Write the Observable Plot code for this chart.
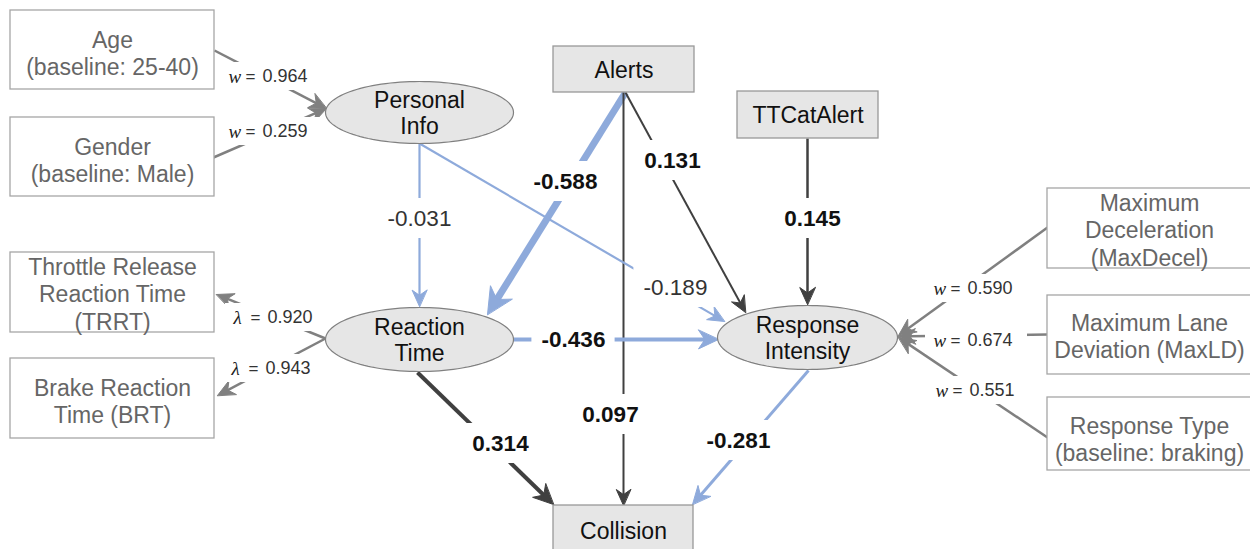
<!DOCTYPE html>
<html><head><meta charset="utf-8">
<script src="https://cdn.jsdelivr.net/npm/d3@7"></script>
<script src="https://cdn.jsdelivr.net/npm/@observablehq/plot@0.6"></script>
<style>html,body{margin:0;padding:0;background:#fff;overflow:hidden}</style>
</head><body><div id="chart"></div>
<script>
// ---------------- data ----------------
const indicatorLabels = ["Age\n(baseline: 25-40)", "Gender\n(baseline: Male)", "Throttle Release\nReaction Time\n(TRRT)", "Brake Reaction\nTime (BRT)", "Maximum\nDeceleration\n(MaxDecel)", "Maximum Lane\nDeviation (MaxLD)", "Response Type\n(baseline: braking)"];
const latentLabels = ["Personal\nInfo", "Reaction\nTime", "Response\nIntensity"];
const observedLabels = ["Alerts", "TTCatAlert", "Collision"];

const pathFrom = ["Alerts", "Alerts", "Alerts", "TTCatAlert", "Personal Info", "Personal Info", "Reaction Time", "Reaction Time", "Response Intensity"];
const pathTo   = ["Reaction Time", "Response Intensity", "Collision", "Response Intensity", "Reaction Time", "Response Intensity", "Response Intensity", "Collision", "Collision"];
const pathCoef = [-0.588, 0.131, 0.097, 0.145, -0.031, -0.189, -0.436, 0.314, -0.281];
const pathSignificant = [true, true, true, true, false, false, true, true, true];

const measureLatent = ["Personal Info", "Personal Info", "Reaction Time", "Reaction Time", "Response Intensity", "Response Intensity", "Response Intensity"];
const measureSymbol = ["w", "w", "λ", "λ", "w", "w", "w"];
const measureValue  = [0.964, 0.259, 0.920, 0.943, 0.590, 0.674, 0.551];

// ---------------- layout ----------------
const indicatorBox = [[10,10,214,89],[10,117,214,196],[10,252,214,332],[10,358,214,438],[1047,188,1251,268],[1047,295,1251,374],[1047,397,1251,470]];
const indicatorTextY = [52,159,293,400,229,335.5,438];
const observedBox = [[553,46,694,92],[737,91,878,138],[553,505,693,565]];
const observedTextY = [70,115,531];
const latentEllipse = [[419,112,94,31],[419,339,94,32],[807,337,90,32]];

const pathStart = [[625,92],[625,92],[623,92],[807,138],[419,143],[419,143],[513,339],[417,372],[808,370]];
const pathEnd   = [[487,314],[745,312],[623,505],[807,304],[419,306],[724,321],[718,339],[553,504],[692,504]];
const pathWidth = [7,2,2,2.5,2.2,2.2,4,4,3];
const pathLabelPos = [[565,181],[672,160],[610,414],[812,218],[419,218],[675,287],[573,339],[500,443],[738,440]];

const measureStart = [[214,50],[213,157],[325,338],[325,338],[1047,227],[1047,334],[1047,437]];
const measureEnd   = [[326,108],[326,108],[216,294],[217,395],[898,335],[898,336],[898,337]];
const measureLabelPos = [[228,76],[228,131],[233,317],[231,368],[933,288],[933,340],[935,390]];

const BLUE = "#8eaadb", DARK = "#404040", GRAY = "#808080";
const FONT = "Liberation Sans, Arial, Helvetica, sans-serif";

// ---------------- geometry helpers ----------------
function headGeom(s, e, sw) {
  const dx = e[0]-s[0], dy = e[1]-s[1], len = Math.hypot(dx, dy);
  const ux = dx/len, uy = dy/len, nx = -uy, ny = ux;
  const L = 12 + 2*sw, W = 5 + 1.1*sw, N = 0.68*L;
  return {
    poly: [e, [e[0]-L*ux+W*nx, e[1]-L*uy+W*ny], [e[0]-N*ux, e[1]-N*uy], [e[0]-L*ux-W*nx, e[1]-L*uy-W*ny]],
    lineEnd: [e[0]-(N-1)*ux, e[1]-(N-1)*uy]
  };
}

const edges = [];
pathCoef.forEach((c, i) => {
  const sw = pathWidth[i];
  const g = headGeom(pathStart[i], pathEnd[i], sw);
  edges.push({id: "p"+i, s: pathStart[i], e: g.lineEnd, poly: g.poly, color: c < 0 ? BLUE : DARK, sw});
});
measureValue.forEach((v, i) => {
  const g = headGeom(measureStart[i], measureEnd[i], 2.5);
  edges.push({id: "m"+i, s: measureStart[i], e: g.lineEnd, poly: g.poly, color: GRAY, sw: 2.5});
});
const headPts = edges.flatMap(d => d.poly.map(p => ({id: d.id, x: p[0], y: p[1], color: d.color})));

const ellipsePts = latentEllipse.flatMap(([cx, cy, rx, ry], i) =>
  d3.range(120).map(k => {
    const t = 2*Math.PI*k/120;
    return {id: i, x: cx + rx*Math.cos(t), y: cy + ry*Math.sin(t)};
  }));

const pathIdx = d3.range(pathCoef.length);
const measIdx = d3.range(measureValue.length);
const fmt = v => v.toFixed(3);
const labelHalfW = i => fmt(pathCoef[i]).length * 5.6 + 8;

const chart = Plot.plot({
  width: 1250, height: 549, margin: 0,
  x: {domain: [0, 1250], range: [0, 1250], axis: null},
  y: {domain: [0, 549], range: [0, 549], axis: null},
  style: {fontFamily: FONT, background: "white"},
  marks: [
    Plot.link(edges, {x1: d => d.s[0], y1: d => d.s[1], x2: d => d.e[0], y2: d => d.e[1],
      stroke: d => d.color, strokeWidth: d => d.sw}),
    Plot.line(headPts, {x: "x", y: "y", z: "id", fill: "color", stroke: "color", strokeWidth: 1, curve: "linear-closed"}),
    // label background gaps
    Plot.rect(pathIdx, {x1: i => pathLabelPos[i][0]-labelHalfW(i), x2: i => pathLabelPos[i][0]+labelHalfW(i),
      y1: i => pathLabelPos[i][1]-20, y2: i => pathLabelPos[i][1]+20, fill: "white"}),
    Plot.rect(measIdx, {x1: i => measureLabelPos[i][0]-8, x2: i => measureLabelPos[i][0]+94,
      y1: i => measureLabelPos[i][1]-14, y2: i => measureLabelPos[i][1]+14, fill: "white"}),
    // boxes
    Plot.rect(indicatorBox, {x1: d => d[0], y1: d => d[1], x2: d => d[2], y2: d => d[3], fill: "white", stroke: "#a6a6a6", strokeWidth: 1.3}),
    Plot.rect(observedBox, {x1: d => d[0], y1: d => d[1], x2: d => d[2], y2: d => d[3], fill: "#e6e6e6", stroke: "#999999", strokeWidth: 1.3}),
    Plot.line(ellipsePts, {x: "x", y: "y", z: "id", fill: "#e6e6e6", stroke: "#808080", strokeWidth: 1.2, curve: "linear-closed"}),
    // node texts
    Plot.text(indicatorLabels, {x: (d, i) => (indicatorBox[i][0]+indicatorBox[i][2])/2, y: (d, i) => indicatorTextY[i],
      text: d => d, fontSize: 23, fill: "#666666", lineHeight: 1.19}),
    Plot.text(observedLabels, {x: (d, i) => (observedBox[i][0]+observedBox[i][2])/2, y: (d, i) => observedTextY[i],
      text: d => d, fontSize: 23, fill: "#111111"}),
    Plot.text(latentLabels, {x: (d, i) => latentEllipse[i][0], y: (d, i) => latentEllipse[i][1],
      text: d => d, fontSize: 23, fill: "#111111", lineHeight: 1.15}),
    // path coefficients
    Plot.text(pathIdx.filter(i => pathSignificant[i]), {x: i => pathLabelPos[i][0], y: i => pathLabelPos[i][1],
      text: i => fmt(pathCoef[i]), fontSize: 22.5, fontWeight: "bold", fill: "#111111"}),
    Plot.text(pathIdx.filter(i => !pathSignificant[i]), {x: i => pathLabelPos[i][0], y: i => pathLabelPos[i][1],
      text: i => fmt(pathCoef[i]), fontSize: 22.5, fill: "#333333"}),
    // measurement weights
    Plot.text(measIdx, {x: i => measureLabelPos[i][0], y: i => measureLabelPos[i][1], text: i => measureSymbol[i],
      textAnchor: "start", fontSize: 19, fontStyle: "italic", fontFamily: "Liberation Serif, DejaVu Serif, serif", fill: "#222222"}),
    Plot.text(measIdx, {x: i => measureLabelPos[i][0] + 17, y: i => measureLabelPos[i][1], text: () => "=",
      textAnchor: "start", fontSize: 17, fill: "#333333"}),
    Plot.text(measIdx, {x: i => measureLabelPos[i][0] + 34, y: i => measureLabelPos[i][1], text: i => fmt(measureValue[i]),
      textAnchor: "start", fontSize: 18, fill: "#333333"})
  ]
});
document.getElementById("chart").append(chart);
</script>
</body></html>
